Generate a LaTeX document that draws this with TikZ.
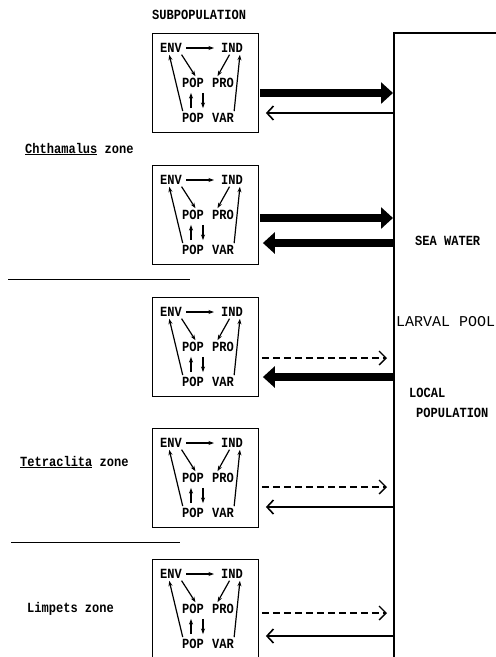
\documentclass[tikz,border=0pt]{standalone}
\usepackage{fontspec}
\newfontfamily\twfont{Liberation Mono}[FakeStretch=0.86]
\newfontfamily\twplain{Liberation Mono}
\usetikzlibrary{arrows.meta}
\begin{document}
\begin{tikzpicture}[x=1pt,y=-1pt,
  every node/.style={font=\fontsize{14}{15}\selectfont\twfont\bfseries, inner sep=1pt},
  subbox/.style={draw, line width=0.9pt, minimum width=106pt, minimum height=99pt, anchor=north west, inner sep=0pt},
  small/.style={line width=1.2pt, -{Stealth[length=5.5pt,width=4pt]}},
  bigarrow/.style={line width=8pt, -{Triangle[length=12pt 0, width=21pt 0]}},
  thinarrow/.style={line width=1.6pt, -{Straight Barb[length=6.5pt 0,width=14pt 0]}},
  dasharrow/.style={line width=1.3pt, dash pattern=on 7pt off 4pt, -{Straight Barb[length=7pt 0,width=14pt 0]}},
  sep/.style={line width=1pt},
]
\useasboundingbox (0,0) rectangle (496,657);

% title
\node[anchor=west] (title) at (151,15) {SUBPOPULATION};

% vertical line (larval pool boundary)
\coordinate (ltop) at (394,33);
\coordinate (lbot) at (394,657);
\coordinate (rtop) at (496,33);
\draw[line width=1.2pt] (rtop) -- (ltop) -- (lbot);

% subpopulation boxes
\foreach \i/\y in {1/33,2/165,3/297,4/428,5/559}{
  \begin{scope}[shift={(152,\y)}]
    \node[subbox] (box\i) at (0,0) {};
    \node (env\i) at (19,15) {ENV};
    \node (ind\i) at (80,15) {IND};
    \node (popa\i) at (41,50) {POP};
    \node (pro\i) at (71,50) {PRO};
    \node (popb\i) at (41,85) {POP};
    \node (var\i) at (71,85) {VAR};
    \draw[small, shorten <=3pt, shorten >=6pt] (env\i.east) -- (ind\i.west);
    \draw[small, shorten <=1pt, shorten >=1pt] ([xshift=-2pt]env\i.south east) -- ([xshift=3pt]popa\i.north);
    \draw[small, shorten <=1pt, shorten >=1pt] ([xshift=-2pt]ind\i.south) -- ([xshift=-6pt]pro\i.north);
    \draw[small, shorten <=1pt, shorten >=1pt] ([xshift=2pt]popb\i.north west) -- ([xshift=-2pt]env\i.south);
    \draw[small, shorten <=1pt, shorten >=1pt] ([xshift=-1pt]var\i.north east) -- ([xshift=-4pt]ind\i.south east);
    \draw[small, shorten <=4pt, shorten >=4pt] ([xshift=-2pt]popb\i.north) -- ([xshift=-2pt]popa\i.south);
    \draw[small, shorten <=4pt, shorten >=4pt] ([xshift=10pt]popa\i.south) -- ([xshift=10pt]popb\i.north);
  \end{scope}
}

% exchange points on the pool boundary
\coordinate (o1) at (394,93);  \coordinate (i1) at (394,113);
\coordinate (o2) at (394,218); \coordinate (i2) at (394,243);
\coordinate (o3) at (394,358); \coordinate (i3) at (394,377);
\coordinate (o4) at (394,487); \coordinate (i4) at (394,507);
\coordinate (o5) at (394,613); \coordinate (i5) at (394,636);

\draw[bigarrow, shorten <=1pt, shorten >=1pt] (box1.east |- o1) -- (o1);
\draw[thinarrow, shorten >=7pt] (i1) -- (box1.east |- i1);

\draw[bigarrow, shorten <=1pt, shorten >=1pt] (box2.east |- o2) -- (o2);
\draw[bigarrow, shorten >=4pt] (i2) -- (box2.east |- i2);

\draw[dasharrow, shorten <=3pt, shorten >=7pt] (box3.east |- o3) -- (o3);
\draw[bigarrow, shorten >=4pt] (i3) -- (box3.east |- i3);

\draw[dasharrow, shorten <=3pt, shorten >=7pt] (box4.east |- o4) -- (o4);
\draw[thinarrow, shorten >=7pt] (i4) -- (box4.east |- i4);

\draw[dasharrow, shorten <=3pt, shorten >=7pt] (box5.east |- o5) -- (o5);
\draw[thinarrow, shorten >=7pt] (i5) -- (box5.east |- i5);

% zone labels and separators
\node[anchor=west] (chth) at (24,149) {\underline{Chthamalus} zone};
\draw[sep] (8,279) -- (190,279);
\node[anchor=west] (tetr) at (19,462) {\underline{Tetraclita} zone};
\draw[sep] (11,542) -- (180,542);
\node[anchor=west] (limp) at (26,609) {Limpets zone};

% right-hand labels
\node[anchor=west] (sea) at (414,241) {SEA WATER};
\node[anchor=west, font=\fontsize{15}{16}\selectfont\twplain] (larval) at (395,322) {LARVAL POOL};
\node[anchor=west] (local) at (408,393) {LOCAL};
\node[anchor=west] (popn) at (415,413) {POPULATION};
\end{tikzpicture}
\end{document}
